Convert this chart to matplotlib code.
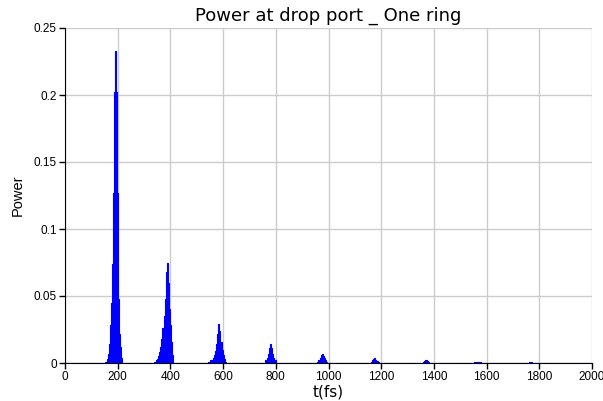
import numpy as np
import matplotlib
matplotlib.use('Agg')
import matplotlib.pyplot as plt

# pulse train (t in fs, power), zeros between pulses
t_p1 = [148, 152, 156, 160, 164, 168, 172, 176, 180, 184, 188, 192, 196, 200, 204, 208, 212, 216, 220]
p_p1 = [0.0, 0.0005, 0.001, 0.003, 0.007, 0.014, 0.028, 0.045, 0.074, 0.127, 0.202, 0.233, 0.202, 0.127, 0.048, 0.022, 0.012, 0.004, 0.0]

t_p2 = [336, 340, 344, 348, 352, 356, 360, 364, 368, 372, 376, 380, 384, 388, 392, 396, 400, 404, 408, 412]
p_p2 = [0.0, 0.0005, 0.001, 0.002, 0.003, 0.005, 0.008, 0.012, 0.018, 0.026, 0.035, 0.048, 0.068, 0.075, 0.060, 0.040, 0.028, 0.016, 0.006, 0.0]

t_p3 = [540, 548, 556, 564, 568, 572, 576, 580, 584, 588, 592, 596, 600, 604, 608, 616]
p_p3 = [0.0, 0.001, 0.002, 0.004, 0.006, 0.009, 0.014, 0.022, 0.029, 0.024, 0.016, 0.010, 0.006, 0.003, 0.001, 0.0]

t_p4 = [756, 764, 768, 772, 776, 780, 784, 788, 792, 796, 804]
p_p4 = [0.0, 0.002, 0.004, 0.007, 0.011, 0.014, 0.011, 0.007, 0.004, 0.002, 0.0]

t_p5 = [952, 960, 964, 968, 972, 976, 980, 984, 988, 992, 1000]
p_p5 = [0.0, 0.001, 0.002, 0.004, 0.006, 0.0068, 0.0055, 0.0035, 0.002, 0.001, 0.0]

t_p6 = [1156, 1164, 1168, 1172, 1176, 1180, 1184, 1188, 1196]
p_p6 = [0.0, 0.001, 0.002, 0.0033, 0.0035, 0.0025, 0.0015, 0.0007, 0.0]

t_p7 = [1354, 1362, 1366, 1370, 1374, 1378, 1386]
p_p7 = [0.0, 0.0008, 0.0015, 0.0019, 0.0014, 0.0008, 0.0]

t_p8 = [1550, 1558, 1562, 1566, 1570, 1574, 1582]
p_p8 = [0.0, 0.0004, 0.0008, 0.001, 0.0008, 0.0004, 0.0]

t_p9 = [1752, 1760, 1764, 1768, 1776]
p_p9 = [0.0, 0.0003, 0.0005, 0.0004, 0.0]

t_p10 = [1948, 1956, 1960, 1964, 1972]
p_p10 = [0.0, 0.0002, 0.0003, 0.0002, 0.0]

x_ticks = [0, 200, 400, 600, 800, 1000, 1200, 1400, 1600, 1800, 2000]
y_ticks = [0, 0.05, 0.1, 0.15, 0.2, 0.25]
y_ticklabels = ['0', '0.05', '0.1', '0.15', '0.2', '0.25']

t_fs = np.array([0] + t_p1 + t_p2 + t_p3 + t_p4 + t_p5 + t_p6 + t_p7 + t_p8 + t_p9 + t_p10 + [2000], dtype=float)
power = np.array([0.0] + p_p1 + p_p2 + p_p3 + p_p4 + p_p5 + p_p6 + p_p7 + p_p8 + p_p9 + p_p10 + [0.0])

fig = plt.figure(figsize=(6.03, 4.01), dpi=100)
ax = fig.add_axes([65/603, 38/401, 527/603, 335/401])

ax.fill_between(t_fs, 0, power, step='mid', color='#0000ff', lw=0)
ax.step(t_fs, power, where='mid', color='#0000ff', lw=0.8)

ax.set_xlim(0, 2000)
ax.set_ylim(0, 0.25)
ax.set_xticks(x_ticks)
ax.set_xticklabels([str(v) for v in x_ticks])
ax.set_yticks(y_ticks)
ax.set_yticklabels(y_ticklabels)
ax.grid(True, color='#cccccc', lw=1)
ax.set_axisbelow(True)

ax.spines['top'].set_visible(False)
ax.spines['right'].set_visible(False)
ax.tick_params(direction='out', length=4, width=1, labelsize=8.5, pad=2)
for lab in ax.get_xticklabels() + ax.get_yticklabels():
    lab.set_family('Liberation Sans')

ax.set_xlabel('t(fs)', fontsize=11, family='DejaVu Sans', labelpad=1)
ax.set_ylabel('Power', fontsize=10.5, family='Liberation Sans', labelpad=6)
ax.set_title('Power at drop port _ One ring', fontsize=13, family='DejaVu Sans', pad=5)

fig.savefig('out.png', dpi=100)
